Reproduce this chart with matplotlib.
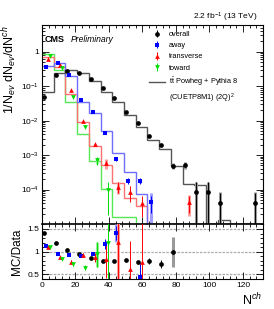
import numpy as np
import matplotlib
matplotlib.use("Agg")
import matplotlib.pyplot as plt
from matplotlib.ticker import FuncFormatter, LogLocator, MultipleLocator, NullFormatter
from matplotlib.lines import Line2D

plt.rcParams['font.family'] = ['Liberation Sans', 'DejaVu Sans']
plt.rcParams['mathtext.fontset'] = 'custom'
plt.rcParams['mathtext.rm'] = 'Liberation Sans'
plt.rcParams['mathtext.it'] = 'Liberation Sans:italic'

# 19 bins of width 7 in N^ch
edges = np.arange(0, 134, 7)
nan = np.nan

# data, 1/N dN/dNch per bin
overall = [0.048, 0.21, 0.28, 0.25, 0.16, 0.088, 0.045, 0.018, 0.0083, 0.0035, 0.0020,
           4.8e-4, 5.2e-4, 8.5e-5, 8.5e-5, 4.1e-5, nan, nan, 4.1e-5]
away = [0.35, 0.48, 0.215, 0.040, 0.018, 0.0043, 7.6e-4, 1.77e-4, 1.77e-4, 4.3e-5,
        nan, nan, nan, nan, nan, nan, nan, nan, nan]
transverse = [0.62, 0.41, 0.078, 0.010, 0.0021, 5.9e-4, 1.2e-4, 8.7e-5, 4.1e-5, nan,
              nan, nan, 4.3e-5, nan, nan, nan, nan, nan, nan]
toward = [0.78, 0.34, 0.049, 0.0064, 7.1e-4, 9.4e-5, nan, nan, nan, nan,
          nan, nan, nan, nan, nan, nan, nan, nan, nan]

# relative stat / syst errors on the data
overall_stat = [0.02]*9 + [0.05, 0.07, 0.1, 0.12, 1.0, 1.0, 1.0, 0, 0, 1.0]
overall_sys = [0]*11 + [0.2, 0.25, 1.0, 1.0, 1.1, 0, 0, 1.1]
away_stat = [0.02]*5 + [0.05, 0.1, 0.2, 0.2, 0.5] + [0]*9
away_sys = [0]*8 + [0.15, 0.8] + [0]*9
transverse_stat = [0.02]*4 + [0.05, 0.15, 0.35, 0.5, 0.6, 0, 0, 0, 0.5] + [0]*6
transverse_sys = [0]*5 + [0.35, 0.4, 0, 0, 0, 0, 0, 0.6] + [0]*6
toward_stat = [0.02]*3 + [0.05, 0.25, 0.8] + [0]*13
toward_sys = [0]*4 + [0.2, 0] + [0]*13

# Powheg + Pythia 8 prediction
mc_overall = [0.068, 0.25, 0.29, 0.24, 0.14, 0.070, 0.036, 0.0146, 0.0064, 0.0028, 0.00146,
              4.8e-4, 1.48e-4, 1.37e-4, 0, 1.3e-5, 0, 0, 0]
mc_away = [0.40, 0.46, 0.20, 0.036, 0.0172, 0.0049, 1.15e-3, 3.3e-4, 7.3e-5, 0,
           0, 0, 0, 0, 0, 0, 0, 0, 0]
mc_transverse = [0.69, 0.36, 0.061, 0.0093, 0.0019, 5.0e-4, 1.5e-4, 5.5e-5, 3.4e-5, 0,
                 0, 0, 0, 0, 0, 0, 0, 0, 0]
mc_toward = [0.87, 0.29, 0.035, 0.0042, 6.6e-4, 1.05e-4, 1.6e-5, 1.6e-5, 0, 0,
             0, 0, 0, 0, 0, 0, 0, 0, 0]

# MC/Data ratio
r_overall = [1.41, 1.19, 1.03, 0.95, 0.87, 0.80, 0.79, 0.81, 0.77, 0.80, 0.73, 0.99]
r_overall_err = [0.02, 0.01, 0.01, 0.01, 0.01, 0.01, 0.01, 0.02, 0.03, 0.06, 0.09, 0.05]
r_overall_sys = [0]*11 + [0.33]
r_away = [1.13, 0.96, 0.93, 0.91, 0.96, 1.17, 1.41, nan, 0.45]
r_away_err = [0.02, 0.02, 0.02, 0.02, 0.04, 0.1, 0.15, 0, 0.3]
r_away_sys = [0, 0, 0, 0, 0, 0, 0.2, 0, 0]
r_transverse = [1.11, 0.88, 0.78, 0.93, 0.88, 0.83, 1.21, 0.63, 0.78]
r_transverse_err = [0.02, 0.02, 0.03, 0.04, 0.1, 0.4, 1.0, 0.6, 1.0]
r_transverse_sys = [0, 0, 0, 0, 0, 0, 1.0, 0, 0]
r_toward = [1.11, 0.85, 0.72, 0.65, 0.94, 1.2]
r_toward_err = [0.02, 0.03, 0.04, 0.05, 0.28, 1.0]
r_toward_sys = [0, 0, 0, 0, 0.28, 0]

ymin = 1e-5
bw = edges[1] - edges[0]
left = edges[:-1]

series = [
    ("overall", 'o', 'black', '#555555', '#999999', overall, overall_stat, overall_sys, mc_overall,
     r_overall, r_overall_err, r_overall_sys, 1),
    ("away", 's', '#0000ff', '#6f6fff', '#a0a0ff', away, away_stat, away_sys, mc_away,
     r_away, r_away_err, r_away_sys, 2),
    ("transverse", '^', '#ff0000', '#ff7070', '#ffa0a0', transverse, transverse_stat, transverse_sys,
     mc_transverse, r_transverse, r_transverse_err, r_transverse_sys, 3),
    ("toward", 'v', '#00dd00', '#55e855', '#99f099', toward, toward_stat, toward_sys, mc_toward,
     r_toward, r_toward_err, r_toward_sys, 4),
]

fig = plt.figure(figsize=(2.74, 3.09), dpi=100)
ax1 = fig.add_axes([0.1533, 0.2751, 0.8066, 0.6440])
ax2 = fig.add_axes([0.1533, 0.0971, 0.8066, 0.1780], sharex=ax1)

handles = []
for name, mk, col, hcol, scol, d, st, sy, mc, r, re, rs, k in series[::-1]:
    mc = np.array(mc, float)
    ax1.stairs(np.where(mc > 0, mc, ymin), edges, baseline=None, color=hcol, lw=1.0, zorder=2)

for name, mk, col, hcol, scol, d, st, sy, mc, r, re, rs, k in series:
    d = np.array(d, float)
    x = left + k * bw / 6.0
    st = np.array(st, float) * d
    sy = np.array(sy, float) * d
    lo_sy = np.minimum(sy, d * 0.9999)
    m = sy > 0
    ax1.vlines(x[m], (d - lo_sy)[m], (d + sy)[m], color=scol, lw=2.2, zorder=3)
    lo = np.minimum(st, d * 0.9999)
    h = ax1.errorbar(x, d, yerr=[lo, st], fmt=mk, color=col, ms=3.4, mew=0, elinewidth=0.7,
                     capsize=0, zorder=4, label=name)
    handles.append(h)

    r = np.array(r, float)
    xr = x[:len(r)]
    rs = np.array(rs, float)
    m = rs > 0
    ax2.vlines(xr[m], (r - rs)[m], (r + rs)[m], color=scol, lw=2.2, zorder=3)
    ax2.errorbar(xr, r, yerr=re, fmt=mk, color=col, ms=3.4, mew=0, elinewidth=0.7,
                 capsize=1.2, capthick=0.6, zorder=4, clip_on=True)

ax1.set_yscale('log')
ax1.set_ylim(ymin, 6)
ax1.set_xlim(0, 132)
ax1.set_yticks([1e-4, 1e-3, 1e-2, 1e-1, 1])
ax1.yaxis.set_minor_locator(LogLocator(base=10, subs=np.arange(2, 10)))
ax1.yaxis.set_minor_formatter(NullFormatter())
ax1.yaxis.set_major_formatter(FuncFormatter(
    lambda v, p: '1' if abs(v - 1) < 1e-9 else r'$10^{%d}$' % round(np.log10(v))))
ax1.xaxis.set_major_locator(MultipleLocator(20))
ax1.xaxis.set_minor_locator(MultipleLocator(4))
plt.setp(ax1.get_xticklabels(), visible=False)

for a in (ax1, ax2):
    a.tick_params(which='both', direction='in', top=True, right=True, width=0.6, labelsize=6, pad=2)
    a.tick_params(which='major', length=5)
    a.tick_params(which='minor', length=2.5)
    for s in a.spines.values():
        s.set_linewidth(0.8)

ax2.set_ylim(0.40, 1.61)
ax2.set_yticks([0.5, 1, 1.5])
ax2.set_yticklabels(['0.5', '1', '1.5'])
ax2.yaxis.set_minor_locator(MultipleLocator(0.1))
for yv in [0.5, 1, 1.5]:
    ax2.axhline(yv, color='#aaaaaa', lw=0.9, ls=(0, (2, 1)), zorder=1)
ax2.spines['top'].set_linewidth(1.2)

ax1.set_ylabel(r'1/N$_{ev}$ dN$_{ev}$/dN$^{ch}$', fontsize=9, loc='top', labelpad=2)
ax2.set_ylabel('MC/Data', fontsize=8.5, labelpad=3)
ax2.set_xlabel(r'N$^{ch}$', fontsize=9, labelpad=1)
ax2.xaxis.set_label_coords(0.995, -0.24)
ax2.xaxis.label.set_horizontalalignment('right')

fig.text(0.938, 0.944, r'2.2 fb$^{-1}$ (13 TeV)', fontsize=6, ha='right', va='center')
ax1.text(0.012, 0.925, 'CMS', fontsize=6.5, fontweight='bold', transform=ax1.transAxes, va='center')
ax1.text(0.13, 0.925, 'Preliminary', fontsize=6.2, style='italic', transform=ax1.transAxes, va='center')

mc_line = Line2D([], [], color='#555555', lw=1.0)
blank = Line2D([], [], color='none')
leg = ax1.legend(handles + [mc_line, blank],
                 ['overall', 'away', 'transverse', 'toward',
                  r'$\mathrm{t\bar{t}}$ Powheg + Pythia 8', r'(CUETP8M1) (2Q)$^{2}$'],
                 loc='upper left', bbox_to_anchor=(0.47, 0.985), frameon=False, fontsize=5.3,
                 handlelength=2.2, handletextpad=0.5, labelspacing=0.55, borderaxespad=0)

fig.savefig('out.png', dpi=100)
